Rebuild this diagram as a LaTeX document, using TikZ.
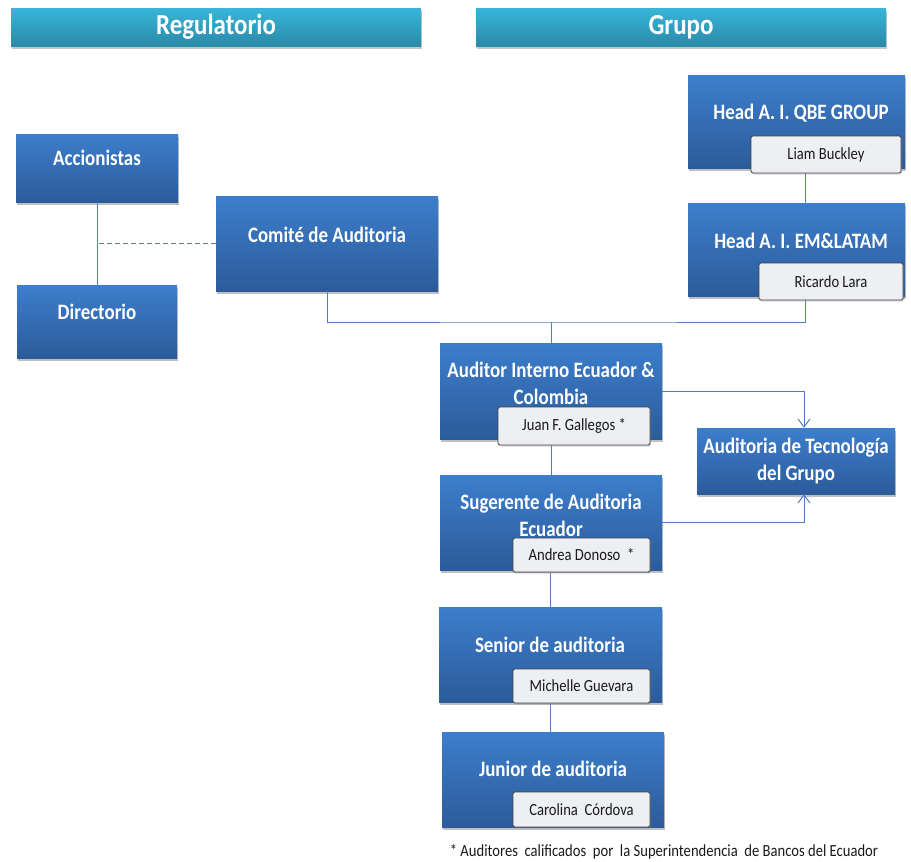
\documentclass[tikz,border=0pt]{standalone}
\usepackage{fontspec}
\setmainfont{Carlito}
\newfontfamily\boxfont[FakeStretch=0.86]{Carlito}
\usepackage{tikz}
\usetikzlibrary{calc,shadows,arrows.meta}
\definecolor{boxtop}{HTML}{3D7ECC}
\definecolor{boxbot}{HTML}{2C5B9A}
\definecolor{headtop}{HTML}{38B5D9}
\definecolor{headbot}{HTML}{2A8AA8}
\definecolor{linkblue}{HTML}{4F81BD}
\definecolor{namefill}{HTML}{EDEFF3}

\tikzset{
  unit/.style={rectangle, inner sep=0pt, top color=boxtop, bottom color=boxbot,
    drop shadow={shadow xshift=1pt, shadow yshift=-2.5pt, opacity=.5}},
  header/.style={rectangle, inner sep=0pt, top color=headtop, bottom color=headbot,
    minimum width=410pt, minimum height=38pt,
    drop shadow={shadow xshift=1pt, shadow yshift=-3pt, opacity=.45},
    font=\boxfont\bfseries\fontsize{29}{34}\selectfont, text=white},
  title/.style={align=center, text=white, inner sep=0pt,
    font=\boxfont\bfseries\fontsize{22}{27}\selectfont},
  person/.style={rectangle, rounded corners=1.5pt, fill=namefill, draw=black!75,
    line width=.9pt, inner sep=0pt, text=black!90,
    font=\boxfont\fontsize{17}{20}\selectfont,
    drop shadow={shadow xshift=1pt, shadow yshift=-1.5pt, opacity=.3}},
  link/.style={draw=linkblue, line width=1pt},
}

\begin{document}
\begin{tikzpicture}[x=1pt,y=-1pt]
  \useasboundingbox (0,0) rectangle (911,862);

  % headers
  \node[header] (reg) at (216,27) {Regulatorio};
  \node[header] (grp) at (681,27) {Grupo};

  % regulatory side
  \node[unit, minimum width=162pt, minimum height=68pt] (acc) at (97,168) {};
  \node[title] (acct) at (97,158) {Accionistas};
  \node[unit, minimum width=160pt, minimum height=73pt] (dir) at (97,321.5) {};
  \node[title] (dirt) at (97,312) {Directorio};
  \node[unit, minimum width=222pt, minimum height=95pt] (com) at (327,243.5) {};
  \node[title] (comt) at (327,235) {Comité de Auditoria};

  % group side
  \node[unit, minimum width=217pt, minimum height=93pt] (qbe) at (796.5,121.5) {};
  \node[title] (qbet) at (801,113) {Head A. I. QBE GROUP};
  \node[person, minimum width=150pt, minimum height=37pt] (liam) at (826,154.5) {Liam Buckley};
  \node[unit, minimum width=217pt, minimum height=93pt] (em) at (796.5,249.5) {};
  \node[title] (emt) at (801,241) {Head A. I. EM\&LATAM};
  \node[person, minimum width=144pt, minimum height=37pt] (ricardo) at (831,281.5) {Ricardo\ Lara};

  % local audit team
  \node[unit, minimum width=222pt, minimum height=96pt] (aie) at (551,391) {};
  \node[title] (aiet) at (551,383.5) {Auditor Interno Ecuador \&\\Colombia};
  \node[person, minimum width=152pt, minimum height=38pt] (juan) at (574,426) {Juan F. Gallegos *};
  \node[unit, minimum width=198pt, minimum height=66pt] (tec) at (796,461) {};
  \node[title] (tect) at (796,461.5) {Auditoria de Tecnología\\del Grupo};
  \node[unit, minimum width=222pt, minimum height=95pt] (sug) at (551,522.5) {};
  \node[title] (sugt) at (551,515) {Sugerente de Auditoria\\Ecuador};
  \node[person, minimum width=137pt, minimum height=34pt] (andrea) at (581.5,555) {Andrea Donoso\ \ *};
  \node[unit, minimum width=223pt, minimum height=95pt] (sen) at (550.5,654.5) {};
  \node[title] (sent) at (550,645) {Senior de auditoria};
  \node[person, minimum width=137pt, minimum height=34pt] (mich) at (581.5,686) {Michelle Guevara};
  \node[unit, minimum width=222pt, minimum height=95pt] (jun) at (553,779.5) {};
  \node[title] (junt) at (553,769) {Junior de auditoria};
  \node[person, minimum width=137pt, minimum height=35pt] (carol) at (581.5,809.5) {Carolina\ \ Córdova};

  \node[inner sep=0pt, font=\boxfont\fontsize{17}{20}\selectfont, text=black!90] (foot) at (664,852)
    {*\ Auditores\ \ calificados\ \ por\ \ la Superintendencia\ \ de Bancos del Ecuador};

  % connectors
  \coordinate (bus) at (550,322);
  \coordinate (grpline) at (805,0);
  \draw[link] (acc.south) -- (dir.north);
  \draw[link, dashed, dash pattern=on 5pt off 3pt] (com.west) -- (com.west -| acc.south);
  \draw[link] (com.south) |- (bus) -| (ricardo.south -| grpline);
  \draw[link] (liam.south -| grpline) -- (em.north -| grpline);
  \draw[link] (aie.north) -- (aie.north |- bus);
  \draw[link] (juan.south -| aie.south) -- (sug.north);
  \draw[link] (andrea.south -| sen.north) -- (sen.north);
  \draw[link] (mich.south -| sen.north) -- (jun.north -| sen.north);
  \draw[link, -{Straight Barb[length=8pt,width=12pt]}] (aie.east) -| ([xshift=8pt]tec.north);
  \draw[link, -{Straight Barb[length=8pt,width=12pt]}] (sug.east) -| ([xshift=8pt]tec.south);
\end{tikzpicture}
\end{document}
